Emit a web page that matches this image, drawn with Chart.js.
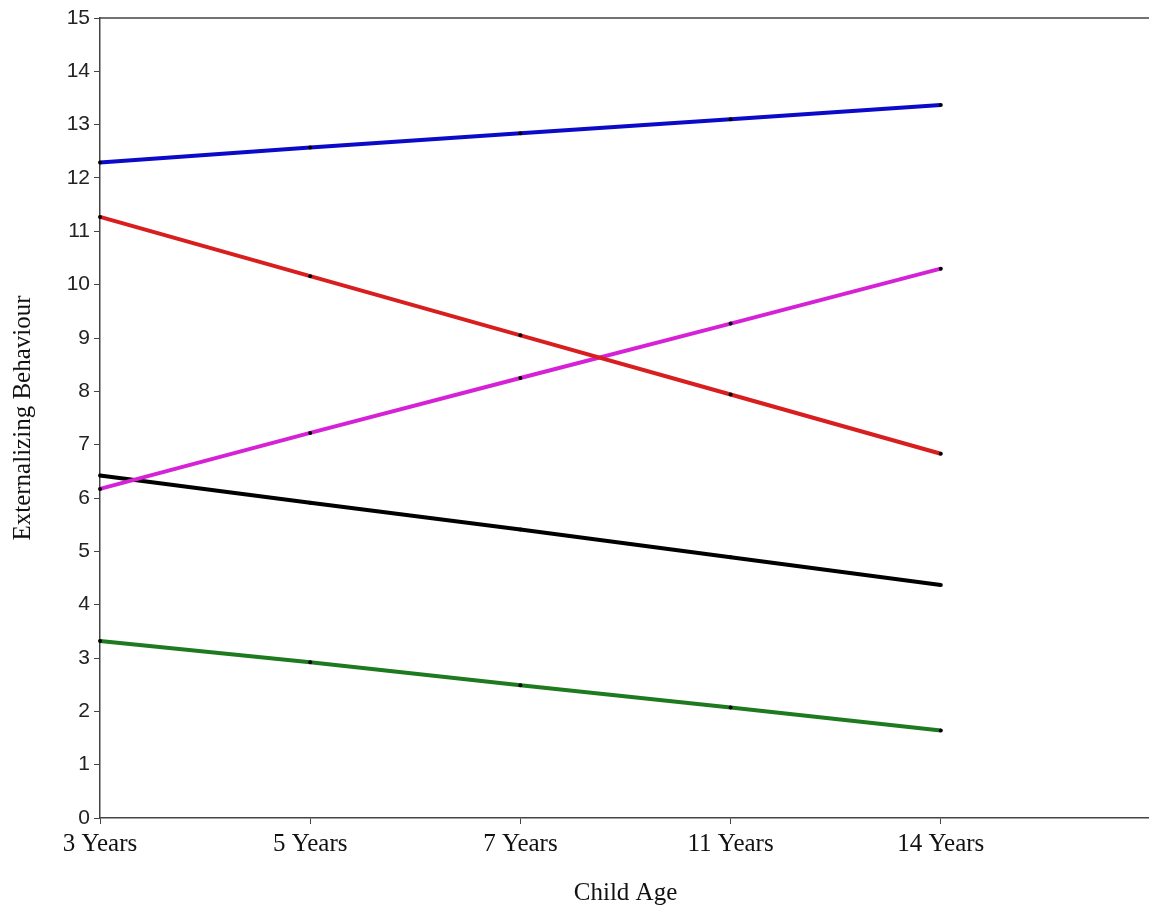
<!DOCTYPE html>
<html>
<head>
<meta charset="utf-8">
<script src="https://cdn.jsdelivr.net/npm/chart.js@4/dist/chart.umd.min.js"></script>
<style>
  html, body { margin: 0; padding: 0; background: #fff; overflow: hidden; }
  #wrap { width: 1156px; height: 910px; position: relative; }
</style>
</head>
<body>
<div id="wrap"><canvas id="chartAge"></canvas></div>
<script>
// data
const ageLabels = ['3 Years', '5 Years', '7 Years', '11 Years', '14 Years', ''];
const blueSeries = [12.29, 12.57, 12.84, 13.1, 13.37];
const redSeries = [11.27, 10.16, 9.05, 7.94, 6.83];
const magentaSeries = [6.17, 7.22, 8.25, 9.27, 10.3];
const blackSeries = [6.42, 5.91, 5.41, 4.89, 4.37];
const greenSeries = [3.32, 2.92, 2.49, 2.07, 1.64];
const yTicks = [0, 1, 2, 3, 4, 5, 6, 7, 8, 9, 10, 11, 12, 13, 14, 15];

function makeLine(data, color) {
    return {
        data: data,
        borderColor: color,
        backgroundColor: '#000',
        borderWidth: 4,
        fill: false,
        tension: 0,
        pointRadius: 2,
        pointBorderWidth: 0,
        pointBackgroundColor: '#000'
    };
}

// top frame line
const topBorder = {
    id: 'topBorder',
    afterDraw(chart) {
        const a = chart.chartArea;
        const c = chart.ctx;
        c.save();
        c.strokeStyle = '#444';
        c.lineWidth = 1.5;
        c.beginPath();
        c.moveTo(a.left, a.top);
        c.lineTo(a.right, a.top);
        c.stroke();
        c.restore();
    }
};

const ctx = document.getElementById('chartAge');
new Chart(ctx.getContext('2d'), {
    type: 'line',
    data: {
        labels: ageLabels,
        datasets: [
            makeLine(blueSeries, '#0a0ac8'),
            makeLine(redSeries, '#d81e1e'),
            makeLine(magentaSeries, '#d622d6'),
            makeLine(blackSeries, '#000000'),
            makeLine(greenSeries, '#1e7a1e')
        ]
    },
    plugins: [topBorder],
    options: {
        responsive: true,
        maintainAspectRatio: false,
        animation: false,
        layout: { padding: { top: 18, right: 0, left: 0, bottom: 0 } },
        plugins: {
            legend: { display: false },
            tooltip: { enabled: false }
        },
        scales: {
            x: {
                offset: false,
                grid: {
                    display: true,
                    drawOnChartArea: false,
                    drawTicks: true,
                    tickLength: 6,
                    color: '#444'
                },
                border: { display: true, color: '#444', width: 1.5 },
                ticks: {
                    autoSkip: false,
                    maxRotation: 0,
                    padding: 5,
                    color: '#111',
                    font: { family: '"Liberation Serif", serif', size: 25 }
                },
                title: {
                    display: true,
                    text: 'Child Age',
                    color: '#111',
                    padding: { top: 18, bottom: 2 },
                    font: { family: '"Liberation Serif", serif', size: 25 }
                },
                afterFit: function(scale) { scale.height = 92; }
            },
            y: {
                min: 0,
                max: 15,
                afterBuildTicks: function(scale) {
                    scale.ticks = yTicks.map(v => ({ value: v }));
                },
                grid: {
                    display: true,
                    drawOnChartArea: false,
                    drawTicks: true,
                    tickLength: 6,
                    color: '#444'
                },
                border: { display: true, color: '#444', width: 1.5 },
                ticks: {
                    padding: 4,
                    color: '#222',
                    font: { family: '"Liberation Sans", Arial, sans-serif', size: 21 }
                },
                title: {
                    display: true,
                    text: 'Externalizing Behaviour',
                    color: '#111',
                    padding: { top: 8, bottom: 10 },
                    font: { family: '"Liberation Serif", serif', size: 25 }
                },
                afterFit: function(scale) { scale.width = 100; }
            }
        }
    }
});
</script>
</body>
</html>
